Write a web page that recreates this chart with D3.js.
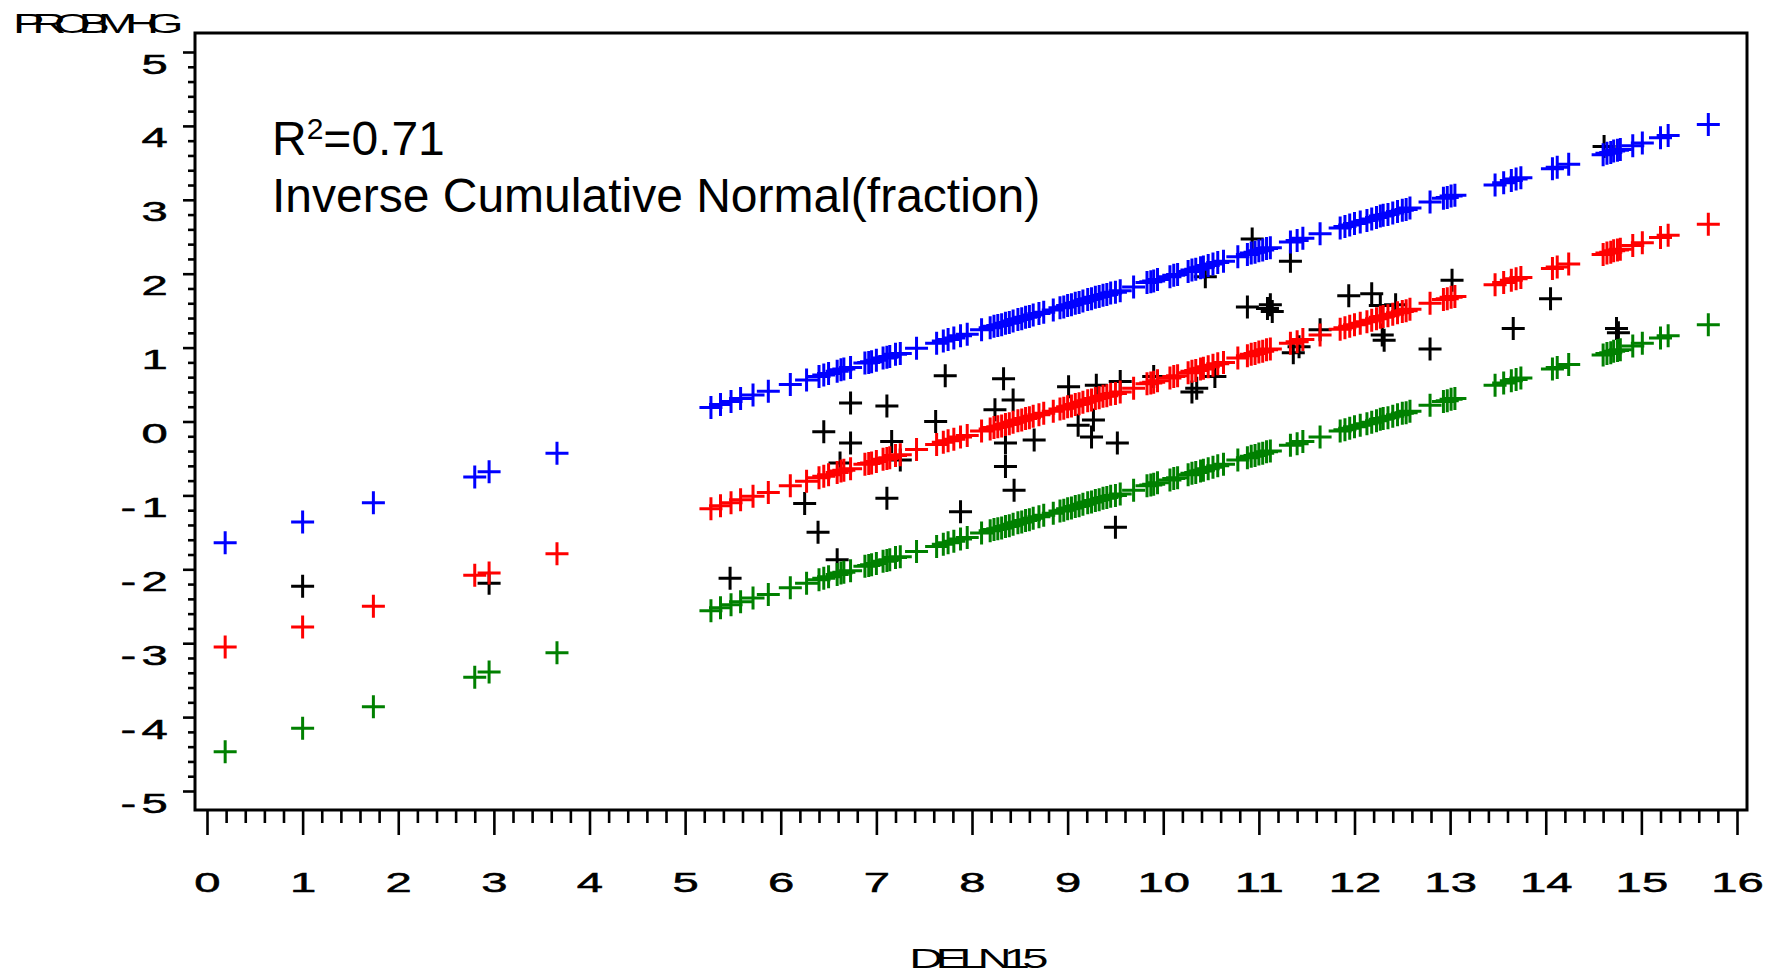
<!DOCTYPE html>
<html>
<head>
<meta charset="utf-8">
<script src="https://cdn.jsdelivr.net/npm/d3@7"></script>
<style>
  html, body { margin: 0; padding: 0; background: #fff; }
  svg { display: block; }
</style>
</head>
<body>
<div id="chart"></div>
<script>
// ---- data ----
// x positions (DELN15) shared by the three fitted series
const fitX = [0.19, 1.00, 1.74, 2.80, 2.95, 3.66,
  5.27, 5.37, 5.48, 5.58, 5.71, 5.87, 6.10, 6.27, 6.40, 6.45, 6.50, 6.59, 6.63, 6.66, 6.73,
  6.88, 6.92, 6.95, 7.00, 7.07, 7.11, 7.14, 7.20, 7.25, 7.42, 7.63, 7.70, 7.75, 7.81, 7.88, 7.95,
  8.10, 8.19, 8.23, 8.27, 8.31, 8.35, 8.39, 8.43, 8.48, 8.52, 8.56, 8.60, 8.64, 8.70, 8.75, 8.85,
  8.92, 8.96, 9.00, 9.04, 9.08, 9.12, 9.16, 9.21, 9.25, 9.29, 9.33, 9.37, 9.41, 9.45, 9.50, 9.55,
  9.69, 9.83, 9.87, 9.90, 9.94, 10.07, 10.11, 10.15, 10.26, 10.30, 10.34, 10.39, 10.42, 10.47, 10.52, 10.57,
  10.63, 10.78, 10.88, 10.92, 10.96, 11.00, 11.04, 11.08, 11.12, 11.33, 11.40, 11.46, 11.64,
  11.85, 11.90, 11.95, 12.00, 12.06, 12.13, 12.18, 12.23, 12.27, 12.30, 12.35, 12.40, 12.45, 12.50, 12.54, 12.58,
  12.79, 12.93, 12.97, 13.01, 13.05,
  13.47, 13.56, 13.64, 13.69, 13.74, 14.07, 14.12, 14.24, 14.60, 14.64, 14.68, 14.71, 14.75, 14.78,
  14.91, 15.01, 15.20, 15.28, 15.70];

// upper limit (blue)
const upperY = [-1.64, -1.36, -1.10, -0.75, -0.68, -0.43,
  0.19, 0.23, 0.27, 0.31, 0.36, 0.41, 0.50, 0.56, 0.61, 0.63, 0.65, 0.68, 0.70, 0.71, 0.73,
  0.79, 0.80, 0.81, 0.83, 0.86, 0.87, 0.88, 0.91, 0.92, 0.99, 1.06, 1.09, 1.11, 1.13, 1.16, 1.18,
  1.24, 1.27, 1.29, 1.30, 1.31, 1.33, 1.34, 1.36, 1.38, 1.39, 1.41, 1.42, 1.44, 1.46, 1.48, 1.51,
  1.54, 1.55, 1.57, 1.58, 1.60, 1.61, 1.63, 1.65, 1.66, 1.68, 1.69, 1.71, 1.72, 1.74, 1.75, 1.77,
  1.82, 1.88, 1.89, 1.90, 1.92, 1.96, 1.98, 1.99, 2.03, 2.05, 2.06, 2.08, 2.09, 2.11, 2.13, 2.15,
  2.17, 2.23, 2.26, 2.28, 2.29, 2.31, 2.32, 2.34, 2.35, 2.43, 2.45, 2.48, 2.54,
  2.62, 2.64, 2.66, 2.68, 2.70, 2.72, 2.74, 2.76, 2.78, 2.79, 2.80, 2.82, 2.84, 2.86, 2.87, 2.89,
  2.97, 3.02, 3.03, 3.05, 3.06,
  3.20, 3.23, 3.26, 3.28, 3.30, 3.42, 3.44, 3.48, 3.61, 3.63, 3.64, 3.66, 3.67, 3.68,
  3.73, 3.77, 3.84, 3.87, 4.02];

// predicted (red)
const predY = [-3.05, -2.78, -2.50, -2.08, -2.05, -1.79,
  -1.18, -1.14, -1.10, -1.06, -1.01, -0.96, -0.87, -0.81, -0.76, -0.74, -0.72, -0.69, -0.67, -0.66, -0.64,
  -0.58, -0.57, -0.56, -0.54, -0.51, -0.50, -0.49, -0.46, -0.45, -0.38, -0.31, -0.28, -0.26, -0.24, -0.21, -0.19,
  -0.13, -0.10, -0.08, -0.07, -0.06, -0.04, -0.03, -0.01, 0.01, 0.02, 0.04, 0.05, 0.07, 0.09, 0.11, 0.14,
  0.17, 0.18, 0.20, 0.21, 0.23, 0.24, 0.26, 0.28, 0.29, 0.31, 0.32, 0.34, 0.35, 0.37, 0.38, 0.40,
  0.45, 0.51, 0.52, 0.53, 0.55, 0.59, 0.61, 0.62, 0.66, 0.68, 0.69, 0.71, 0.72, 0.74, 0.76, 0.78,
  0.80, 0.86, 0.89, 0.91, 0.92, 0.94, 0.95, 0.97, 0.98, 1.06, 1.08, 1.11, 1.17,
  1.25, 1.27, 1.29, 1.31, 1.33, 1.35, 1.37, 1.39, 1.41, 1.42, 1.43, 1.45, 1.47, 1.49, 1.50, 1.52,
  1.60, 1.65, 1.66, 1.68, 1.69,
  1.85, 1.88, 1.91, 1.93, 1.95, 2.07, 2.09, 2.13, 2.26, 2.28, 2.29, 2.31, 2.32, 2.33,
  2.38, 2.42, 2.49, 2.52, 2.67];

// lower limit (green)
const lowerY = [-4.47, -4.15, -3.86, -3.46, -3.39, -3.13,
  -2.56, -2.52, -2.48, -2.44, -2.39, -2.34, -2.25, -2.19, -2.14, -2.12, -2.10, -2.07, -2.05, -2.04, -2.02,
  -1.96, -1.95, -1.94, -1.92, -1.89, -1.88, -1.87, -1.84, -1.83, -1.76, -1.69, -1.66, -1.64, -1.62, -1.59, -1.57,
  -1.51, -1.48, -1.46, -1.45, -1.44, -1.42, -1.41, -1.39, -1.37, -1.36, -1.34, -1.33, -1.31, -1.29, -1.27, -1.24,
  -1.21, -1.20, -1.18, -1.17, -1.15, -1.14, -1.12, -1.10, -1.09, -1.07, -1.06, -1.04, -1.03, -1.01, -1.00, -0.98,
  -0.93, -0.87, -0.86, -0.85, -0.83, -0.79, -0.77, -0.76, -0.72, -0.70, -0.69, -0.67, -0.66, -0.64, -0.62, -0.60,
  -0.58, -0.52, -0.49, -0.47, -0.46, -0.44, -0.43, -0.41, -0.40, -0.32, -0.30, -0.27, -0.21,
  -0.13, -0.11, -0.09, -0.07, -0.05, -0.03, -0.01, 0.01, 0.03, 0.04, 0.05, 0.07, 0.09, 0.11, 0.12, 0.14,
  0.22, 0.27, 0.28, 0.30, 0.31,
  0.49, 0.52, 0.55, 0.57, 0.59, 0.71, 0.73, 0.77, 0.90, 0.92, 0.93, 0.95, 0.96, 0.97,
  1.02, 1.06, 1.13, 1.16, 1.31];

// observed points (black)
const obsX = [1.00, 2.95, 5.47, 6.25, 6.39, 6.45, 6.59, 6.62, 6.73, 6.73, 7.11, 7.11, 7.16, 7.25,
  7.62, 7.72, 7.88, 8.24, 8.33, 8.35, 8.35, 8.43, 8.44, 8.65, 9.01, 9.11, 9.25, 9.27, 9.30, 9.50,
  9.52, 9.55, 9.90, 10.30, 10.35, 10.44, 10.54, 10.88, 10.93, 11.09, 11.12, 11.14, 11.33, 11.36,
  11.42, 11.64, 11.94, 12.18, 12.27, 12.29, 12.31, 12.43, 12.79, 13.02, 13.66, 14.05, 14.61, 14.74, 14.76];
const obsY = [-2.23, -2.19, -2.12, -1.11, -1.50, -0.14, -1.87, -0.56, 0.25, -0.29, 0.21, -1.04, -0.27, -0.52,
  0.00, 0.62, -1.22, 0.16, 0.58, -0.29, -0.61, 0.29, -0.93, -0.25, 0.47, -0.05, -0.21, 0.02, 0.49, -1.43,
  -0.29, 0.54, 0.61, 0.40, 0.45, 1.96, 0.61, 1.55, 2.47, 1.53, 1.58, 1.49, 2.17, 0.93,
  1.01, 1.24, 1.70, 1.73, 1.57, 1.17, 1.10, 1.58, 0.98, 1.91, 1.26, 1.66, 3.72, 1.26, 1.20];

const xTicks = d3.range(0, 17);
const yTicks = d3.range(-5, 6);

// ---- drawing ----
const width = 1776, height = 976;
const font = "'Liberation Sans', Arial, sans-serif";

const svg = d3.select("#chart").append("svg")
    .attr("width", width)
    .attr("height", height)
    .style("background", "#fff");

const x = d3.scaleLinear().domain([0, 16]).range([207, 1737]);
const y = d3.scaleLinear().domain([-5, 5]).range([791, 52]);

const frame = {left: 195, top: 33, right: 1747, bottom: 810};

// minor ticks every 0.2
const xMinor = d3.range(0, 80).map(i => i / 5).filter(v => v % 1 !== 0);
const yMinor = d3.range(-25, 26).map(i => i / 5).filter(v => Math.abs(v % 1) > 1e-9);

// x axis
const xMinorG = svg.append("g")
    .attr("transform", `translate(0,${frame.bottom})`)
    .call(d3.axisBottom(x).tickValues(xMinor).tickSize(13).tickFormat(""));
const xAxisG = svg.append("g")
    .attr("transform", `translate(0,${frame.bottom})`)
    .call(d3.axisBottom(x).tickValues(xTicks).tickSize(25).tickFormat(d3.format("d")));

// y axis
const yMinorG = svg.append("g")
    .attr("transform", `translate(${frame.left},0)`)
    .call(d3.axisLeft(y).tickValues(yMinor).tickSize(7).tickFormat(""));
const yAxisG = svg.append("g")
    .attr("transform", `translate(${frame.left},0)`)
    .call(d3.axisLeft(y).tickValues(yTicks).tickSize(12)
        .tickFormat(d => d < 0 ? "-" + Math.abs(d) : String(d)));

[xMinorG, xAxisG, yMinorG, yAxisG].forEach(g => {
    g.select(".domain").remove();
    g.selectAll(".tick line").attr("stroke", "#000").attr("stroke-width", 2.6);
});

xAxisG.selectAll(".tick text")
    .attr("y", null).attr("dy", null)
    .attr("transform", "translate(0,82) scale(1.75,1)")
    .attr("text-anchor", "middle")
    .attr("fill", "#000")
    .attr("stroke", "#000")
    .attr("stroke-width", 0.5)
    .style("font-family", font)
    .style("font-size", "27px");

yAxisG.selectAll(".tick text")
    .attr("x", null).attr("dy", null)
    .attr("transform", "translate(-22,21) scale(1.75,1)")
    .attr("text-anchor", "end")
    .attr("fill", "#000")
    .attr("stroke", "#000")
    .attr("stroke-width", 0.5)
    .style("letter-spacing", "3px")
    .style("font-family", font)
    .style("font-size", "27px");

// frame
svg.append("rect")
    .attr("x", frame.left)
    .attr("y", frame.top)
    .attr("width", frame.right - frame.left)
    .attr("height", frame.bottom - frame.top)
    .attr("fill", "none")
    .attr("stroke", "#000")
    .attr("stroke-width", 3);

// axis titles
svg.append("text")
    .attr("transform", "translate(13,33) scale(1.75,1)")
    .attr("fill", "#000")
    .style("font-family", font)
    .style("font-size", "27px")
    .style("letter-spacing", "-7px")
    .text("PROBMHG");

svg.append("text")
    .attr("transform", "translate(975,968) scale(1.75,1)")
    .attr("text-anchor", "middle")
    .attr("fill", "#000")
    .style("font-family", font)
    .style("font-size", "27px")
    .style("letter-spacing", "-4.5px")
    .text("DELN15");

// annotation
const note = svg.append("text")
    .attr("x", 272)
    .attr("y", 155)
    .attr("fill", "#000")
    .style("font-family", font)
    .style("font-size", "48px");
note.append("tspan").text("R");
note.append("tspan").attr("dy", -16).style("font-size", "30px").text("2");
note.append("tspan").attr("dy", 16).text("=0.71");

svg.append("text")
    .attr("x", 272)
    .attr("y", 212)
    .attr("fill", "#000")
    .style("font-family", font)
    .style("font-size", "48px")
    .text("Inverse Cumulative Normal(fraction)");

// markers
const cross = "M-11.5,0H11.5M0,-11.5V11.5";

function drawSeries(xs, ys, color) {
    svg.append("g")
        .selectAll("path")
        .data(xs.map((d, i) => [d, ys[i]]))
        .enter()
        .append("path")
        .attr("d", cross)
        .attr("transform", d => `translate(${x(d[0])},${y(d[1])})`)
        .attr("fill", "none")
        .attr("stroke", color)
        .attr("stroke-width", 3);
}

drawSeries(obsX, obsY, "#000000");
drawSeries(fitX, upperY, "#0000ff");
drawSeries(fitX, predY, "#ff0000");
drawSeries(fitX, lowerY, "#008000");
</script>
</body>
</html>
